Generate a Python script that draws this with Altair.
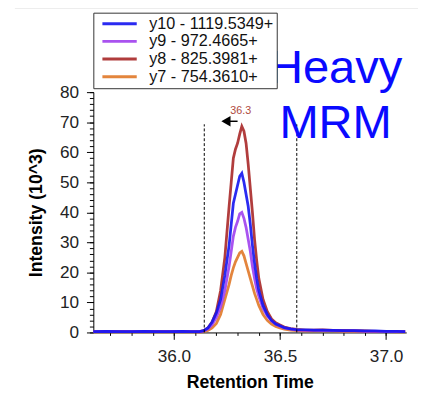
import altair as alt
import pandas as pd

# ---- data ----
time = [35.62, 35.68, 35.74, 35.80, 35.86, 35.92, 35.98, 36.04, 36.08, 36.10,
        36.12, 36.14, 36.16, 36.18, 36.20, 36.22, 36.24, 36.26, 36.27, 36.28,
        36.29, 36.30, 36.31, 36.32, 36.33, 36.34, 36.35, 36.36, 36.37, 36.38,
        36.39, 36.40, 36.42, 36.44, 36.46, 36.48, 36.50, 36.52, 36.55, 36.58,
        36.62, 36.66, 36.70, 36.75, 36.80, 36.85, 36.90, 36.95, 37.00, 37.05, 37.09]

y10 = [0.3, 0.35, 0.3, 0.3, 0.35, 0.3, 0.3, 0.35, 0.3, 0.3,
       0.3, 0.6, 1.5, 3.5, 6.5, 11, 19, 29, 36, 43,
       46, 49, 52, 53, 50, 46, 42, 36, 29, 23,
       18, 14, 9, 6, 4, 2.8, 2.2, 1.6, 1.2, 0.9,
       0.9, 0.8, 0.8, 0.7, 0.6, 0.6, 0.5, 0.5, 0.4, 0.4, 0.3]
y9 = [0.25, 0.3, 0.25, 0.3, 0.3, 0.25, 0.3, 0.3, 0.25, 0.25,
      0.2, 0.5, 1.2, 2.6, 5, 8.5, 14, 22, 27, 32,
      35, 37, 39.5, 40, 38, 35, 31, 27, 22, 18,
      14.5, 12, 8, 5.5, 3.8, 2.8, 2.1, 1.5, 1.1, 0.8,
      0.7, 0.7, 0.6, 0.6, 0.5, 0.5, 0.4, 0.4, 0.3, 0.3, 0.3]
y8 = [0.3, 0.3, 0.35, 0.3, 0.3, 0.35, 0.3, 0.3, 0.3, 0.3,
      0.3, 0.6, 1.5, 3.5, 7, 14, 25, 42, 50, 58,
      61, 63, 66, 68.6, 67, 63, 56, 48, 40, 31,
      24, 18, 11, 7, 4.5, 3.2, 2.5, 1.8, 1.3, 1.0,
      0.8, 0.8, 0.9, 0.7, 0.7, 0.6, 0.5, 0.4, 0.4, 0.3, 0.3]
y7 = [0.2, 0.2, 0.25, 0.2, 0.2, 0.2, 0.25, 0.2, 0.2, 0.2,
      0.1, 0.3, 0.7, 1.5, 3, 6, 11, 16, 19, 21.5,
      23.5, 25, 26.5, 27, 25.5, 23, 20.5, 18, 15.5, 13,
      11, 9, 6, 4, 2.8, 2, 1.5, 1.1, 0.8, 0.6,
      0.5, 0.5, 0.6, 0.5, 0.4, 0.4, 0.3, 0.3, 0.3, 0.2, 0.2]

names = ["y10 - 1119.5349+", "y9 - 972.4665+", "y8 - 825.3981+", "y7 - 754.3610+"]
colors = ["#1414f0", "#a040ee", "#a82828", "#e07828"]

x_major = [36.0, 36.5, 37.0]
x_minor = [35.7, 35.8, 35.9, 36.0, 36.1, 36.2, 36.3, 36.4, 36.5, 36.6, 36.7, 36.8, 36.9, 37.0]
y_major = [0, 10, 20, 30, 40, 50, 60, 70, 80]
y_minor = [0, 2, 4, 6, 8, 10, 12, 14, 16, 18, 20, 22, 24, 26, 28, 30, 32, 34, 36, 38,
           40, 42, 44, 46, 48, 50, 52, 54, 56, 58, 60, 62, 64, 66, 68, 70, 72, 74, 76, 78, 80]

bounds_t = [36.143, 36.579]
bounds_top = 69.3
apex_label = "36.3"
apex_t = 36.315
apex_label_v = 72.6
marker_t = 36.245
marker_t2 = 36.30
marker_v = 70.3

FONT = "Liberation Sans"

rows = []
for nm, vals in [(names[3], y7), (names[2], y8), (names[1], y9), (names[0], y10)]:
    for t, v in zip(time, vals):
        rows.append({"time": t, "intensity": v, "transition": nm})
df = pd.DataFrame(rows)

xscale = alt.Scale(domain=[35.62, 37.095], nice=False, zero=False)
yscale = alt.Scale(domain=[0, 80], nice=False)

lines = alt.Chart(df).mark_line(strokeWidth=2.8, opacity=0.9).encode(
    x=alt.X("time:Q", scale=xscale,
            axis=alt.Axis(values=x_major, format=".1f", title="Retention Time",
                          orient="bottom", tickSize=7, labelPadding=9, titlePadding=9,
                          grid=False)),
    y=alt.Y("intensity:Q", scale=yscale,
            axis=alt.Axis(values=y_major, title="Intensity (10^3)", orient="left",
                          tickSize=7, labelPadding=8, titlePadding=14, grid=False)),
    color=alt.Color("transition:N", sort=names,
                    scale=alt.Scale(domain=names, range=colors),
                    legend=alt.Legend(title=None, orient="none", legendX=0, legendY=-81,
                                      strokeColor="#333333", fillColor="white", padding=3,
                                      symbolType="M-5,0H5", symbolSize=49,
                                      symbolStrokeWidth=3, symbolOffset=15.5,
                                      labelFont=FONT, labelFontSize=16.5,
                                      labelColor="#111111", labelOffset=22, rowPadding=1)),
)

bdf = pd.DataFrame({"t": bounds_t, "lo": [0, 0], "hi": [bounds_top, bounds_top]})
bounds = alt.Chart(bdf).mark_rule(color="black", strokeDash=[3, 2], strokeWidth=1).encode(
    x=alt.X("t:Q", scale=xscale,
            axis=alt.Axis(values=x_minor, labels=False, title=None, tickSize=3,
                          orient="bottom", domain=False, grid=False)),
    y=alt.Y("lo:Q", scale=yscale,
            axis=alt.Axis(values=y_minor, labels=False, title=None, tickSize=4,
                          orient="left", domain=False, grid=False)),
    y2="hi:Q",
)

adf = pd.DataFrame({"t": [apex_t], "v": [apex_label_v], "label": [apex_label]})
apex = alt.Chart(adf).mark_text(font=FONT, fontSize=11, color="#b04a40",
                                baseline="alphabetic").encode(
    x=alt.X("t:Q", scale=xscale, axis=None), y=alt.Y("v:Q", scale=yscale, axis=None),
    text="label:N")

mdf = pd.DataFrame({"t": [marker_t], "t2": [marker_t2], "v": [marker_v]})
mline = alt.Chart(mdf).mark_rule(color="black", strokeWidth=1.5).encode(
    x=alt.X("t:Q", scale=xscale, axis=None), x2="t2:Q",
    y=alt.Y("v:Q", scale=yscale, axis=None))
mpoint = alt.Chart(mdf).mark_point(shape="triangle-left", filled=True, color="black",
                                   size=115, opacity=1).encode(
    x=alt.X("t:Q", scale=xscale, axis=None), y=alt.Y("v:Q", scale=yscale, axis=None))

one = pd.DataFrame({"a": [0]})
big = alt.Chart(one).mark_text(text="Heavy\nMRM", lineBreak="\n", font=FONT, fontSize=48,
                               lineHeight=56, color="#0a0aff", align="center",
                               baseline="alphabetic").encode(
    x=alt.value(247), y=alt.value(-9))
topbar = alt.Chart(one).mark_rule(color="#b8b8b8", strokeWidth=3).encode(
    x=alt.value(-80), x2=alt.value(331), y=alt.value(-87))

chart = alt.layer(lines, bounds, apex, mline, mpoint, big, topbar).resolve_axis(
    x="independent", y="independent"
).properties(
    width=319, height=245,
    autosize=alt.AutoSizeParams(type="none"),
    padding={"left": 87, "top": 82, "right": 12, "bottom": 61},
).configure_view(stroke=None).configure_axis(
    domainColor="black", tickColor="black", labelColor="#222222",
    labelFont=FONT, labelFontSize=17.5, titleFont=FONT, titleFontSize=18,
    titleFontWeight="bold", titleColor="black", domainWidth=1, tickWidth=1,
)

chart.save("out.html", embed_options={"renderer": "svg", "actions": False})
